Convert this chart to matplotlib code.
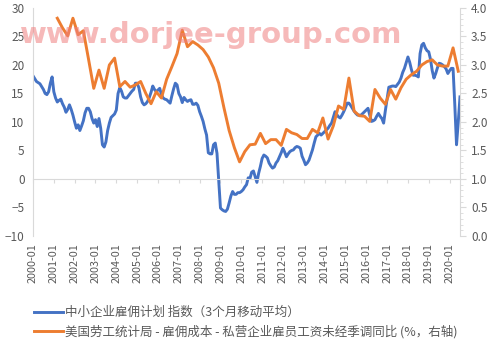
import matplotlib
matplotlib.use("Agg")
import matplotlib.pyplot as plt
from matplotlib.ticker import MultipleLocator, FormatStrFormatter
import numpy as np

plt.rcParams['font.family'] = ['Noto Sans CJK SC', 'DejaVu Sans']

# 中小企业雇佣计划指数(3个月移动平均), monthly 2000-01 .. 2020-07
hiring = [
    18.1, 17.6, 17.1, 16.9, 16.7, 16.2, 15.7, 15.0, 14.8, 15.3, 16.8, 17.9,   # 2000
    15.3, 14.2, 13.5, 13.8, 14.0, 13.2, 12.6, 11.7, 12.2, 13.0, 12.2, 11.2,   # 2001
    10.0, 8.9, 9.5, 8.5, 9.3, 10.2, 11.6, 12.4, 12.4, 11.8, 10.6, 9.8,        # 2002
    10.4, 9.2, 10.6, 8.9, 6.0, 5.6, 6.5, 8.5, 9.8, 10.8, 11.1, 11.4,          # 2003
    12.1, 15.0, 16.0, 15.4, 14.4, 14.2, 14.2, 14.6, 15.0, 15.4, 15.7, 16.8,   # 2004
    16.8, 16.0, 14.4, 13.4, 13.0, 13.2, 13.6, 14.3, 15.2, 16.3, 15.7, 15.3,   # 2005
    15.6, 15.9, 14.8, 14.2, 14.0, 13.9, 13.6, 13.3, 14.6, 15.8, 16.8, 16.5,   # 2006
    15.0, 14.4, 13.4, 14.3, 13.9, 13.6, 13.8, 13.9, 13.1, 13.1, 13.3, 12.9,   # 2007
    11.8, 11.0, 10.1, 8.8, 7.7, 4.6, 4.4, 4.4, 6.0, 6.3, 4.5, -0.2,           # 2008
    -5.1, -5.4, -5.6, -5.7, -5.3, -4.2, -3.0, -2.2, -2.7, -2.7, -2.4, -2.4,   # 2009
    -2.2, -1.9, -1.4, -1.0, 0.2, 0.1, 1.2, 1.4, 0.4, -0.6, 1.0, 2.2,          # 2010
    3.6, 4.2, 4.0, 3.7, 2.8, 2.3, 1.9, 2.1, 2.8, 3.2, 3.9, 4.6,               # 2011
    5.4, 4.7, 3.9, 4.4, 4.8, 5.0, 5.1, 5.5, 5.7, 5.6, 5.4, 4.0,               # 2012
    3.3, 2.5, 2.8, 3.3, 4.2, 5.1, 6.3, 7.4, 7.7, 8.0, 7.7, 8.0,               # 2013
    8.3, 8.6, 8.9, 9.4, 9.8, 10.8, 11.8, 11.3, 10.9, 10.7, 11.2, 11.8,        # 2014
    12.5, 13.3, 13.3, 12.9, 12.4, 11.9, 11.5, 11.2, 11.2, 11.2, 11.5, 11.8,   # 2015
    12.1, 12.4, 11.2, 10.1, 10.2, 10.4, 11.0, 11.5, 11.0, 10.6, 9.8, 12.0,    # 2016
    14.0, 16.1, 16.2, 16.3, 16.3, 16.2, 16.6, 17.0, 17.7, 18.7, 19.4, 20.4,   # 2017
    21.4, 20.5, 19.2, 18.2, 18.2, 18.1, 17.9, 22.0, 23.5, 23.8, 23.0, 22.5,   # 2018
    22.3, 21.0, 19.0, 17.7, 18.5, 19.5, 20.3, 20.2, 20.0, 19.7, 19.3, 18.5,   # 2019
    19.0, 19.4, 19.4, 13.0, 6.0, 10.0, 14.4,                                  # 2020
]

# 雇佣成本 - 私营企业雇员工资未经季调同比 (%), quarterly 2001Q1 .. 2020Q2
eci = [
    3.82, 3.65, 3.51, 3.82,   # 2001
    3.53, 3.60, 3.10, 2.59,   # 2002
    2.91, 2.59, 3.00, 3.12,   # 2003
    2.62, 2.71, 2.61, 2.65,   # 2004
    2.71, 2.50, 2.32, 2.53,   # 2005
    2.42, 2.75, 2.97, 3.20,   # 2006
    3.61, 3.32, 3.41, 3.35,   # 2007
    3.27, 3.14, 2.95, 2.68,   # 2008
    2.25, 1.85, 1.55, 1.30,   # 2009
    1.48, 1.60, 1.61, 1.80,   # 2010
    1.62, 1.69, 1.69, 1.59,   # 2011
    1.87, 1.81, 1.78, 1.71,   # 2012
    1.71, 1.87, 1.81, 2.07,   # 2013
    1.70, 1.93, 2.28, 2.22,   # 2014
    2.77, 2.19, 2.11, 2.10,   # 2015
    2.01, 2.57, 2.42, 2.31,   # 2016
    2.57, 2.40, 2.60, 2.75,   # 2017
    2.83, 2.89, 3.00, 3.06,   # 2018
    3.09, 3.00, 2.98, 2.98,   # 2019
    3.30, 2.89,               # 2020
]

years = list(range(2000, 2021))
tick_labels = [f"{y}-01" for y in years]

blue = "#4472C4"
orange = "#ED7D31"
grey = "#595959"
axis_grey = "#D9D9D9"

m_hiring = np.arange(len(hiring))
m_eci = 14 + 3 * np.arange(len(eci))  # quarter-end months starting 2001-03

fig = plt.figure(figsize=(5, 3.46), dpi=100)
ax = fig.add_axes([0.066, 0.318, 0.854, 0.659])
ax2 = ax.twinx()

l1, = ax.plot(m_hiring, hiring, color=blue, lw=2.1, solid_joinstyle='round')
l2, = ax2.plot(m_eci, eci, color=orange, lw=2.1, solid_joinstyle='round')

ax.set_xlim(0, 246)
ax.set_ylim(-10, 30)
ax2.set_ylim(0, 4)
ax.yaxis.set_major_locator(MultipleLocator(5))
ax2.yaxis.set_major_locator(MultipleLocator(0.5))
ax2.yaxis.set_minor_locator(MultipleLocator(0.1))
ax2.yaxis.set_major_formatter(FormatStrFormatter('%.1f'))

for a in (ax, ax2):
    a.spines['top'].set_visible(False)
ax.spines['right'].set_visible(False)
ax2.spines['bottom'].set_visible(False)
ax2.spines['left'].set_visible(False)
ax.spines['left'].set_color(axis_grey)
ax2.spines['right'].set_color(axis_grey)

# category axis crosses at zero
ax.spines['bottom'].set_position(('data', 0))
ax.spines['bottom'].set_color(axis_grey)
ax.set_xticks(np.arange(0, 246, 12))
ax.tick_params(axis='x', length=3, color=axis_grey, labelbottom=False)
ax.tick_params(axis='y', length=0, labelsize=8.5, labelcolor=grey, pad=6)
ax2.tick_params(axis='y', which='major', length=4, color=axis_grey, labelsize=8.5, labelcolor=grey, pad=4)
ax2.tick_params(axis='y', which='minor', length=2.5, color=axis_grey)

sec = ax.secondary_xaxis(0.0)
sec.set_xticks(np.arange(0, 246, 12))
sec.set_xticklabels(tick_labels, rotation=90, fontsize=7.8, color=grey)
sec.tick_params(length=0, pad=5)
sec.spines['bottom'].set_visible(False)

fig.text(0.04, 0.875, "www.dorjee-group.com", fontsize=21, fontweight='bold',
         color="#F08080", alpha=0.55, family=['DejaVu Sans'])

fig.legend([l1, l2],
           ["中小企业雇佣计划 指数（3个月移动平均）",
            "美国劳工统计局 - 雇佣成本 - 私营企业雇员工资未经季调同比 (%，右轴)"],
           loc='upper left', bbox_to_anchor=(0.045, 0.148), frameon=False,
           fontsize=9, handlelength=2.3, handletextpad=0.2, labelspacing=0.45,
           labelcolor=grey)

fig.savefig("out.png", dpi=100)
